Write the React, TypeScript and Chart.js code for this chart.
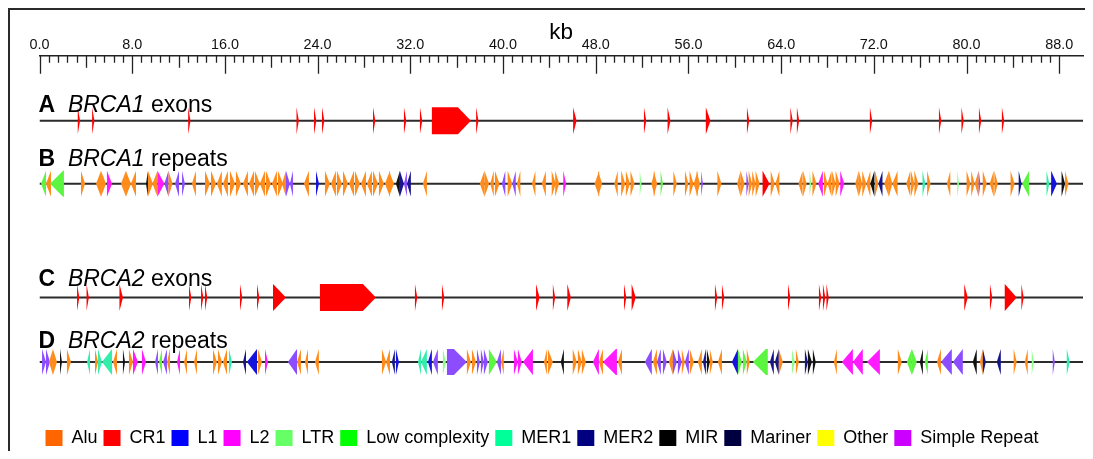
import React, { useEffect, useRef } from 'react';
import { Chart, registerables } from 'chart.js';

Chart.register(...registerables);

const FONT = '"Liberation Sans", Arial, Helvetica, sans-serif';

// ---- axis ----
const axisMin = 0;
const axisMax = 90.05;
const axisTitle = 'kb';
const majorStep = 8;
const rulerStep = 0.8;
const rulerLast = 88;

// ---- tracks ----
const trackLetters = ['A', 'B', 'C', 'D'];
const trackGenes = ['BRCA1', 'BRCA1', 'BRCA2', 'BRCA2'];
const trackKinds = ['exons', 'repeats', 'exons', 'repeats'];
const trackRows = [1, 1.97, 3.72, 4.71];

// ---- repeat classes ----
const repeatCodes = ['Alu', 'CR1', 'L1', 'L2', 'LTR', 'LowC', 'MER1', 'MER2', 'MIR', 'Mariner', 'Other', 'Simple'];
const repeatNames = ['Alu', 'CR1', 'L1', 'L2', 'LTR', 'Low complexity', 'MER1', 'MER2', 'MIR', 'Mariner', 'Other', 'Simple Repeat'];
const legendColors = ['#ff6600', '#ff0000', '#0000ff', '#ff00ff', '#66ff66', '#00ff00', '#00ff99', '#000080', '#000000', '#000040', '#ffff00', '#cc00ff'];
const arrowColors = ['#ff8c1a', '#ff0000', '#1414dc', '#ff1aff', '#8cff8c', '#5cf542', '#33eeaa', '#16168a', '#111111', '#00003c', '#ffff00', '#8c4dff'];
const exonColor = '#ff0000';

// exons: [start kb, end kb, strand]
const brca1Exons = [
  [3.30, 3.50, 1], [4.54, 4.74, 1], [12.83, 13.03, 1], [22.18, 22.38, 1], [23.69, 23.89, 1],
  [24.38, 24.58, 1], [28.78, 28.98, 1], [31.45, 31.65, 1], [32.83, 33.03, 1], [33.86, 37.23, 1],
  [37.68, 37.88, 1], [46.05, 46.35, 1], [52.16, 52.36, 1], [54.20, 54.45, 1], [57.50, 57.90, 1],
  [61.05, 61.25, 1], [64.80, 65.00, 1], [65.36, 65.56, 1], [71.66, 71.86, 1], [77.62, 77.82, 1],
  [79.56, 79.76, 1], [81.07, 81.27, 1], [83.05, 83.25, 1],
];

const brca2Exons = [
  [3.24, 3.44, 1], [4.06, 4.26, 1], [6.90, 7.20, 1], [12.90, 13.10, 1], [13.94, 14.14, 1],
  [14.28, 14.48, 1], [17.30, 17.50, 1], [18.77, 18.97, 1], [20.15, 21.27, 1], [24.20, 29.03, 1],
  [32.40, 32.60, 1], [34.73, 34.93, 1], [42.85, 43.15, 1], [44.30, 44.50, 1], [45.55, 45.85, 1],
  [50.44, 50.64, 1], [51.10, 51.45, 1], [58.29, 58.49, 1], [58.89, 59.09, 1], [64.59, 64.79, 1],
  [67.26, 67.46, 1], [67.61, 67.81, 1], [67.91, 68.11, 1], [79.80, 80.10, 1], [82.02, 82.22, 1],
  [83.30, 84.33, 1], [84.73, 84.93, 1],
];

// repeats: [start kb, end kb, strand, class]
const brca1Repeats = [
  [0.13, 0.56, -1, 'LowC'], [0.56, 0.99, -1, 'Alu'], [0.91, 2.11, -1, 'LowC'], [3.58, 3.93, 1, 'Alu'],
  [4.88, 5.31, -1, 'Alu'], [5.31, 5.74, 1, 'Alu'], [5.82, 6.26, 1, 'L2'], [7.03, 7.46, -1, 'Alu'],
  [7.46, 7.89, 1, 'Alu'], [7.89, 8.33, -1, 'Alu'], [9.19, 9.36, -1, 'MIR'], [9.36, 9.79, 1, 'Alu'],
  [9.75, 10.18, -1, 'Alu'], [10.18, 10.78, 1, 'L2'], [10.78, 11.13, -1, 'Simple'], [11.13, 11.48, 1, 'Alu'],
  [11.69, 12.04, -1, 'Simple'], [12.30, 12.55, 1, 'Simple'], [13.16, 13.50, -1, 'Alu'],
  [14.28, 14.71, 1, 'Alu'], [14.80, 15.23, 1, 'Alu'], [15.31, 15.74, -1, 'Alu'], [15.83, 16.26, -1, 'Alu'],
  [16.44, 16.87, 1, 'Alu'], [16.95, 17.39, 1, 'Alu'], [17.56, 17.99, -1, 'Alu'], [18.08, 18.51, -1, 'Alu'],
  [18.59, 19.02, 1, 'Alu'], [19.02, 19.46, -1, 'Alu'], [19.54, 19.97, 1, 'Alu'], [20.06, 20.49, -1, 'Alu'],
  [20.58, 21.01, 1, 'Alu'], [20.92, 21.27, -1, 'Alu'], [21.27, 21.61, 1, 'Simple'], [21.61, 21.87, -1, 'Simple'],
  [22.82, 23.25, -1, 'Alu'], [23.86, 24.12, 1, 'L1'],
  [24.63, 25.06, 1, 'Alu'], [25.15, 25.58, -1, 'Alu'], [25.67, 26.10, 1, 'Alu'], [26.19, 26.62, 1, 'Alu'],
  [26.71, 27.14, -1, 'Alu'], [27.22, 27.65, 1, 'Alu'], [27.74, 28.17, -1, 'Alu'], [28.26, 28.69, -1, 'Alu'],
  [28.78, 29.21, 1, 'Alu'], [29.29, 29.72, 1, 'Alu'], [29.81, 30.24, -1, 'Alu'], [30.16, 30.59, 1, 'Alu'],
  [30.76, 31.10, -1, 'MIR'], [31.10, 31.45, 1, 'MER2'], [31.45, 31.71, -1, 'Simple'], [31.71, 32.05, -1, 'MER2'],
  [33.09, 33.43, -1, 'Alu'],
  [38.00, 38.40, -1, 'Alu'], [38.40, 38.80, 1, 'Alu'], [38.90, 39.20, -1, 'Alu'], [39.30, 39.70, 1, 'Alu'],
  [39.90, 40.20, -1, 'Simple'], [40.40, 40.80, 1, 'Alu'], [40.80, 41.10, -1, 'Simple'], [41.20, 41.50, -1, 'Alu'],
  [42.50, 42.80, -1, 'Alu'], [43.35, 43.70, -1, 'Alu'], [44.20, 44.55, 1, 'Alu'], [44.50, 44.85, 1, 'Alu'],
  [45.20, 45.45, 1, 'L2'], [47.90, 48.30, -1, 'Alu'], [48.20, 48.55, 1, 'Alu'], [49.60, 49.90, -1, 'Alu'],
  [50.20, 50.55, 1, 'Alu'], [50.60, 50.95, 1, 'Alu'], [51.00, 51.35, 1, 'Alu'], [51.80, 51.95, 1, 'LTR'],
  [52.80, 53.10, -1, 'Alu'], [53.00, 53.30, 1, 'Alu'], [53.60, 53.80, 1, 'LowC'], [54.70, 55.00, 1, 'Alu'],
  [55.70, 56.00, 1, 'Alu'], [56.10, 56.45, 1, 'Alu'], [56.45, 56.80, -1, 'Alu'], [56.70, 57.00, 1, 'Alu'],
  [57.10, 57.25, 1, 'Simple'], [58.50, 58.85, 1, 'Alu'],
  [60.20, 60.50, -1, 'Alu'], [60.50, 60.85, 1, 'Alu'], [61.00, 61.20, 1, 'Simple'], [61.20, 61.50, 1, 'Alu'],
  [61.50, 61.80, 1, 'Alu'], [61.80, 62.15, 1, 'Alu'], [62.40, 63.00, 1, 'CR1'], [63.10, 63.45, 1, 'Alu'],
  [63.50, 63.85, -1, 'Alu'], [65.50, 65.85, -1, 'Alu'], [65.90, 66.20, 1, 'Alu'], [66.45, 66.60, 1, 'LTR'],
  [66.70, 67.05, 1, 'Alu'], [67.20, 67.60, -1, 'L2'], [67.70, 68.00, 1, 'Alu'], [68.00, 68.35, -1, 'Alu'],
  [68.40, 68.70, 1, 'Alu'], [68.70, 69.05, 1, 'Alu'], [69.10, 69.45, 1, 'L2'],
  [70.40, 70.70, -1, 'Alu'], [70.70, 71.00, 1, 'Alu'], [71.00, 71.35, 1, 'Alu'], [71.35, 71.70, -1, 'Alu'],
  [71.70, 72.05, -1, 'MIR'], [72.10, 72.40, 1, 'Alu'], [72.40, 72.75, -1, 'MER2'], [72.90, 73.30, -1, 'Alu'],
  [73.30, 73.60, 1, 'Alu'], [73.60, 74.05, -1, 'Alu'], [74.80, 75.15, -1, 'Alu'], [75.20, 75.50, 1, 'Alu'],
  [75.50, 75.85, 1, 'Alu'], [76.20, 76.45, 1, 'MER1'], [76.60, 76.90, 1, 'Alu'], [78.30, 78.60, -1, 'Alu'],
  [79.20, 79.35, 1, 'LTR'], [80.00, 80.35, 1, 'Alu'], [80.40, 80.70, 1, 'Alu'], [80.70, 81.05, -1, 'Alu'],
  [81.05, 81.20, 1, 'Simple'], [81.40, 81.75, 1, 'Alu'], [82.00, 82.35, -1, 'Alu'], [82.40, 82.70, 1, 'Alu'],
  [83.80, 84.15, 1, 'Alu'], [84.50, 84.75, 1, 'MER2'], [84.80, 85.40, -1, 'LowC'], [86.90, 87.15, 1, 'MER1'],
  [87.30, 87.80, 1, 'L1'], [88.20, 88.50, 1, 'MIR'], [88.50, 88.80, 1, 'Alu'],
];

const brca2Repeats = [
  [0.22, 0.56, 1, 'Simple'], [0.56, 0.91, 1, 'Simple'], [0.82, 1.16, -1, 'Alu'], [1.16, 1.51, 1, 'Alu'],
  [1.77, 1.94, 1, 'MIR'], [2.37, 2.72, 1, 'Alu'], [4.10, 4.36, -1, 'MER1'], [4.79, 5.05, 1, 'Alu'],
  [5.05, 5.39, 1, 'MER1'], [5.39, 6.26, -1, 'MER1'], [6.34, 6.69, -1, 'Alu'], [7.20, 7.38, 1, 'MIR'],
  [7.72, 8.07, 1, 'Alu'], [8.07, 8.50, 1, 'L2'], [8.84, 9.19, 1, 'L2'], [9.97, 10.22, -1, 'Simple'],
  [10.31, 10.57, -1, 'LowC'], [10.66, 11.00, -1, 'Simple'], [11.00, 11.26, -1, 'Alu'], [11.86, 12.12, -1, 'L2'],
  [12.47, 12.73, -1, 'Alu'], [13.33, 13.59, -1, 'Alu'], [14.97, 15.31, 1, 'Alu'], [15.40, 15.75, 1, 'Alu'],
  [15.83, 16.18, -1, 'Alu'], [16.35, 16.61, 1, 'MER1'], [17.56, 17.82, -1, 'MER2'], [17.90, 18.77, -1, 'L1'],
  [18.85, 19.20, 1, 'Alu'], [19.46, 19.72, 1, 'L2'], [21.44, 22.22, -1, 'Simple'], [22.22, 22.56, -1, 'Alu'],
  [22.91, 23.17, -1, 'Alu'], [23.77, 24.11, -1, 'Alu'],
  [29.55, 29.90, 1, 'Alu'], [29.90, 30.24, -1, 'Alu'], [30.41, 30.67, -1, 'MER2'], [30.76, 31.02, 1, 'L1'],
  [32.66, 32.92, -1, 'MER1'], [32.92, 33.43, -1, 'MER1'], [33.52, 33.86, -1, 'L1'], [33.95, 34.38, -1, 'Simple'],
  [34.81, 35.07, 1, 'LTR'], [35.16, 36.88, 1, 'Simple'], [36.88, 37.23, 1, 'Alu'], [37.32, 37.66, 1, 'Alu'],
  [37.75, 38.01, 1, 'Simple'], [38.09, 38.35, 1, 'Simple'], [38.35, 38.70, 1, 'Simple'], [38.78, 39.47, 1, 'LowC'],
  [39.47, 39.82, -1, 'Simple'], [39.82, 40.07, -1, 'Alu'], [40.94, 41.28, 1, 'L2'], [41.28, 41.63, 1, 'L2'],
  [41.72, 42.58, -1, 'L2'], [43.53, 43.79, -1, 'Alu'], [43.87, 44.30, 1, 'Alu'], [44.99, 45.25, -1, 'MIR'],
  [46.02, 46.37, 1, 'Alu'], [46.46, 46.80, 1, 'Alu'], [46.80, 47.15, 1, 'Alu'], [47.75, 48.27, -1, 'L2'],
  [48.27, 48.62, -1, 'Alu'], [48.62, 49.83, -1, 'L2'], [49.91, 50.26, -1, 'Alu'],
  [52.24, 52.84, -1, 'Simple'], [52.93, 53.28, -1, 'Alu'], [53.28, 53.62, -1, 'Simple'], [53.80, 54.14, 1, 'Simple'],
  [54.31, 54.66, -1, 'Alu'], [54.66, 55.00, 1, 'Simple'], [55.09, 55.43, 1, 'Simple'], [55.43, 55.69, 1, 'Alu'],
  [55.69, 56.04, -1, 'Simple'], [56.12, 56.47, 1, 'Alu'], [56.81, 57.16, -1, 'Alu'], [57.25, 57.51, -1, 'MER2'],
  [57.59, 57.85, 1, 'MIR'], [57.85, 58.11, 1, 'Alu'], [58.54, 58.89, -1, 'Alu'], [59.75, 60.27, -1, 'L1'],
  [60.27, 60.61, 1, 'LowC'], [60.70, 61.04, 1, 'LowC'], [61.04, 61.30, 1, 'Alu'], [61.56, 62.85, -1, 'LowC'],
  [63.03, 63.37, -1, 'MER2'], [63.46, 63.80, -1, 'MER2'], [63.80, 64.15, 1, 'Alu'], [64.93, 65.18, 1, 'LTR'],
  [65.27, 65.53, 1, 'Alu'], [66.05, 66.31, 1, 'MER2'], [66.31, 66.65, 1, 'MIR'], [66.74, 66.99, 1, 'MIR'],
  [68.55, 68.81, -1, 'Alu'], [69.24, 70.19, -1, 'L2'], [70.19, 71.05, -1, 'L2'], [71.40, 72.52, -1, 'L2'],
  [74.07, 74.41, 1, 'Alu'], [74.85, 75.28, -1, 'LowC'], [75.28, 75.71, 1, 'LowC'], [75.97, 76.23, -1, 'MIR'],
  [76.40, 76.66, -1, 'LowC'], [77.44, 77.79, -1, 'Alu'], [77.79, 78.73, -1, 'Simple'], [78.82, 79.68, -1, 'Simple'],
  [80.54, 80.88, -1, 'MIR'], [81.15, 81.41, -1, 'Alu'], [81.41, 81.67, 1, 'MER2'], [82.61, 82.96, -1, 'MER2'],
  [84.07, 84.33, 1, 'Alu'], [85.02, 85.28, -1, 'Alu'], [85.63, 85.80, 1, 'LTR'], [87.44, 87.62, 1, 'Simple'],
  [88.65, 88.91, 1, 'MER1'],
];

const trackFeatures = [brca1Exons, brca1Repeats, brca2Exons, brca2Repeats];

// ---- style ----
const labelBaselineOffsets = [-8.5, -17.5, -11.5, -13.5];
const labelFontSize = 23;
const arrowHalfHeight = 13;
const exonHalfHeight = 13.5;
const arrowHeadLength = 13;

function drawArrow(ctx: CanvasRenderingContext2D, xa: number, xb: number, yc: number, h: number, dir: number) {
  const x1 = Math.min(xa, xb);
  const x2 = Math.max(xa, xb);
  const hl = Math.min(arrowHeadLength, x2 - x1);
  ctx.beginPath();
  if (dir > 0) {
    ctx.moveTo(x1, yc - h);
    ctx.lineTo(x2 - hl, yc - h);
    ctx.lineTo(x2, yc);
    ctx.lineTo(x2 - hl, yc + h);
    ctx.lineTo(x1, yc + h);
  } else {
    ctx.moveTo(x2, yc - h);
    ctx.lineTo(x1 + hl, yc - h);
    ctx.lineTo(x1, yc);
    ctx.lineTo(x1 + hl, yc + h);
    ctx.lineTo(x2, yc + h);
  }
  ctx.closePath();
  ctx.fill();
}

const featurePlugin = {
  id: 'featureArrows',
  afterDatasetsDraw(chart: any) {
    const { ctx, scales } = chart;
    const xs = scales.x;
    const ys = scales.y;
    ctx.save();
    chart.data.datasets.forEach((ds: any) => {
      if (!ds.features) return;
      const yc = ys.getPixelForValue(ds.row);
      for (const f of ds.features) {
        const x1 = xs.getPixelForValue(f[0]);
        const x2 = xs.getPixelForValue(f[1]);
        if (ds.isExon) {
          ctx.fillStyle = exonColor;
          drawArrow(ctx, x1, x2, yc, exonHalfHeight, f[2]);
        } else {
          ctx.fillStyle = arrowColors[repeatCodes.indexOf(f[3])];
          drawArrow(ctx, x1, x2, yc, arrowHalfHeight, f[2]);
        }
      }
    });
    ctx.restore();
  },
  afterDraw(chart: any) {
    const { ctx, scales, chartArea } = chart;
    const xs = scales.x;
    const ys = scales.y;
    ctx.save();
    // ruler ticks
    ctx.strokeStyle = '#222';
    ctx.lineWidth = 1.3;
    const n = Math.round(rulerLast / rulerStep);
    for (let i = 0; i <= n; i++) {
      const v = i * rulerStep;
      const px = Math.round(xs.getPixelForValue(v)) + 0.5;
      const len = i % 10 === 0 ? 18 : i % 5 === 0 ? 12 : 7;
      ctx.beginPath();
      ctx.moveTo(px, chartArea.top);
      ctx.lineTo(px, chartArea.top + len);
      ctx.stroke();
    }
    // track labels
    ctx.fillStyle = '#000';
    ctx.textBaseline = 'alphabetic';
    ctx.textAlign = 'left';
    trackRows.forEach((row, i) => {
      let x = xs.getPixelForValue(axisMin) - 1;
      const y = ys.getPixelForValue(row) + labelBaselineOffsets[i];
      const parts = [
        { t: trackLetters[i], f: `bold ${labelFontSize}px ${FONT}` },
        { t: '  ', f: `${labelFontSize}px ${FONT}` },
        { t: trackGenes[i], f: `italic ${labelFontSize}px ${FONT}` },
        { t: ' ' + trackKinds[i], f: `${labelFontSize}px ${FONT}` },
      ];
      for (const p of parts) {
        ctx.font = p.f;
        ctx.fillText(p.t, x, y);
        x += ctx.measureText(p.t).width;
      }
    });
    ctx.restore();
  },
};

export default function App() {
  const ref = useRef<HTMLCanvasElement>(null);
  useEffect(() => {
    const canvas = ref.current;
    if (!canvas) return;
    const datasets: any[] = [];
    trackRows.forEach((row) => {
      datasets.push({
        type: 'scatter',
        data: [{ x: axisMin, y: row }, { x: axisMax, y: row }],
        showLine: true,
        borderColor: '#2b2b2b',
        borderWidth: 2,
        pointRadius: 0,
      });
    });
    trackFeatures.forEach((feats, i) => {
      datasets.push({
        type: 'scatter',
        data: feats.map((f: any) => ({ x: (f[0] + f[1]) / 2, y: trackRows[i] })),
        pointRadius: 0,
        features: feats,
        row: trackRows[i],
        isExon: trackKinds[i] === 'exons',
      });
    });
    const chart = new Chart(canvas, {
      type: 'scatter',
      data: { datasets },
      plugins: [featurePlugin],
      options: {
        animation: false,
        responsive: true,
        maintainAspectRatio: false,
        events: [],
        layout: { padding: { top: 19.7, left: 29.5, right: 2, bottom: 3 } },
        scales: {
          x: {
            type: 'linear',
            position: 'top',
            min: axisMin,
            max: axisMax,
            grid: { display: false, drawTicks: false },
            border: { display: true, color: '#222', width: 1.5 },
            ticks: {
              stepSize: majorStep,
              includeBounds: false,
              padding: 3.2,
              maxRotation: 0,
              autoSkip: false,
              color: '#111',
              font: { family: FONT, size: 14.4, lineHeight: 1 },
              callback: (v: any) => Number(v).toFixed(1),
            },
            title: {
              display: true,
              text: axisTitle,
              color: '#000',
              font: { family: FONT, size: 22.5, lineHeight: 0.2333 },
              padding: { top: 0, bottom: 0 },
            },
          },
          y: { type: 'linear', display: false, reverse: true, min: 0, max: 5.65 },
        },
        plugins: {
          tooltip: { enabled: false },
          legend: {
            display: true,
            position: 'bottom',
            align: 'start',
            onClick: () => {},
            labels: {
              boxWidth: 17,
              boxHeight: 16,
              padding: 6,
              color: '#000',
              font: { family: FONT, size: 18 },
              generateLabels: () =>
                repeatNames.map((name, i) => ({
                  text: name,
                  fillStyle: legendColors[i],
                  strokeStyle: legendColors[i],
                  lineWidth: 0,
                  hidden: false,
                  datasetIndex: i,
                })),
            },
          },
        },
      } as any,
    });
    return () => chart.destroy();
  }, []);
  return (
    <div
      style={{
        width: 1075,
        height: 441,
        borderTop: '2px solid #2a2a2a',
        borderLeft: '2px solid #2a2a2a',
        overflow: 'hidden',
        background: '#fff',
      }}
    >
      <div style={{ position: 'relative', width: 1075, height: 450 }}>
        <canvas ref={ref} />
      </div>
    </div>
  );
}
